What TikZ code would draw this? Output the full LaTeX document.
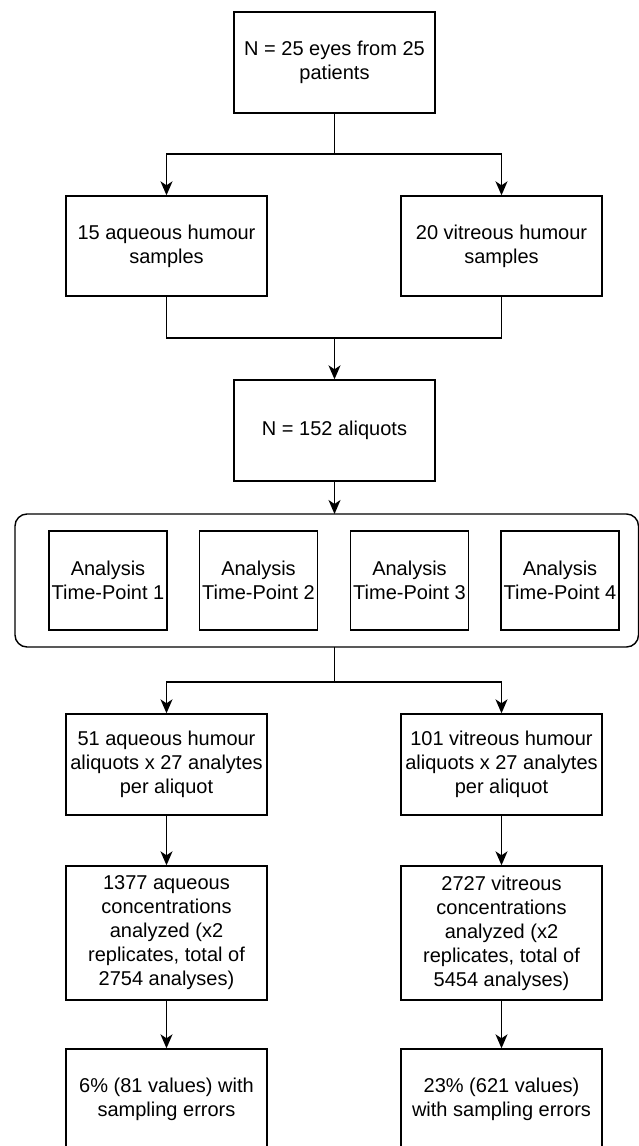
\documentclass[tikz,border=0pt]{standalone}
\usepackage{fontspec}
\setmainfont{Liberation Sans}
\usetikzlibrary{arrows.meta}
\tikzset{
  box/.style={draw=black, line width=1.4pt, rectangle, align=center,
    font=\fontsize{20}{24}\selectfont, inner sep=0pt, text=black},
  conn/.style={draw=black, line width=1.4pt},
  arr/.style={conn, -{Stealth[length=14pt,width=12pt,inset=4pt]}},
}
\begin{document}
\begin{tikzpicture}[x=1pt,y=-1pt]
\clip (0,0) rectangle (639,1146);
\useasboundingbox (0,0) rectangle (639,1146);
\fill[white] (0,0) rectangle (639,1146);

\node[box, minimum width=201pt, minimum height=101pt] (top) at (334.5,62.5) {N = 25 eyes from 25\\patients};
\node[box, minimum width=201pt, minimum height=100pt] (aq) at (166.5,246) {15 aqueous humour\\samples};
\node[box, minimum width=201pt, minimum height=100pt] (vi) at (501.5,246) {20 vitreous humour\\samples};
\node[box, minimum width=201pt, minimum height=101pt] (n152) at (334.5,430.5) {N = 152 aliquots};

\draw[conn, rounded corners=12pt] (15,514) rectangle (638.5,647);
\coordinate (ctop) at (334.5,514);
\coordinate (cbot) at (334.5,647);

\node[box, minimum width=118pt, minimum height=99pt] (t1) at (108,580.5) {Analysis\\Time-Point 1};
\node[box, minimum width=118pt, minimum height=99pt] (t2) at (258.5,580.5) {Analysis\\Time-Point 2};
\node[box, minimum width=118pt, minimum height=99pt] (t3) at (409.5,580.5) {Analysis\\Time-Point 3};
\node[box, minimum width=118pt, minimum height=99pt] (t4) at (560,580.5) {Analysis\\Time-Point 4};

\node[box, minimum width=201pt, minimum height=101pt] (aq2) at (166.5,764.5) {51 aqueous humour\\aliquots x 27 analytes\\per aliquot};
\node[box, minimum width=201pt, minimum height=101pt] (vi2) at (501.5,764.5) {101 vitreous humour\\aliquots x 27 analytes\\per aliquot};
\node[box, minimum width=201pt, minimum height=134pt] (aq3) at (166.5,933) {1377 aqueous\\concentrations\\analyzed (x2\\replicates, total of\\2754 analyses)};
\node[box, minimum width=201pt, minimum height=134pt] (vi3) at (501.5,933) {2727 vitreous\\concentrations\\analyzed (x2\\replicates, total of\\5454 analyses)};
\node[box, minimum width=201pt, minimum height=100pt] (aq4) at (166.5,1099) {6\% (81 values) with\\sampling errors};
\node[box, minimum width=201pt, minimum height=100pt] (vi4) at (501.5,1099) {23\% (621 values)\\with sampling errors};

% top split
\coordinate (s1) at (334.5,154);
\draw[conn] (top.south) -- (s1);
\draw[arr] (s1) -| (aq.north);
\draw[arr] (s1) -| (vi.north);

% merge
\coordinate (m1) at (334.5,338);
\draw[conn] (aq.south) |- (m1) -| (vi.south);
\draw[arr] (m1) -- (n152.north);

\draw[arr] (n152.south) -- (ctop);

% split after container
\coordinate (s2) at (334.5,682);
\draw[conn] (cbot) -- (s2);
\draw[arr] (s2) -| (aq2.north);
\draw[arr] (s2) -| (vi2.north);

\draw[arr] (aq2.south) -- (aq3.north);
\draw[arr] (vi2.south) -- (vi3.north);
\draw[arr] (aq3.south) -- (aq4.north);
\draw[arr] (vi3.south) -- (vi4.north);
\end{tikzpicture}
\end{document}
